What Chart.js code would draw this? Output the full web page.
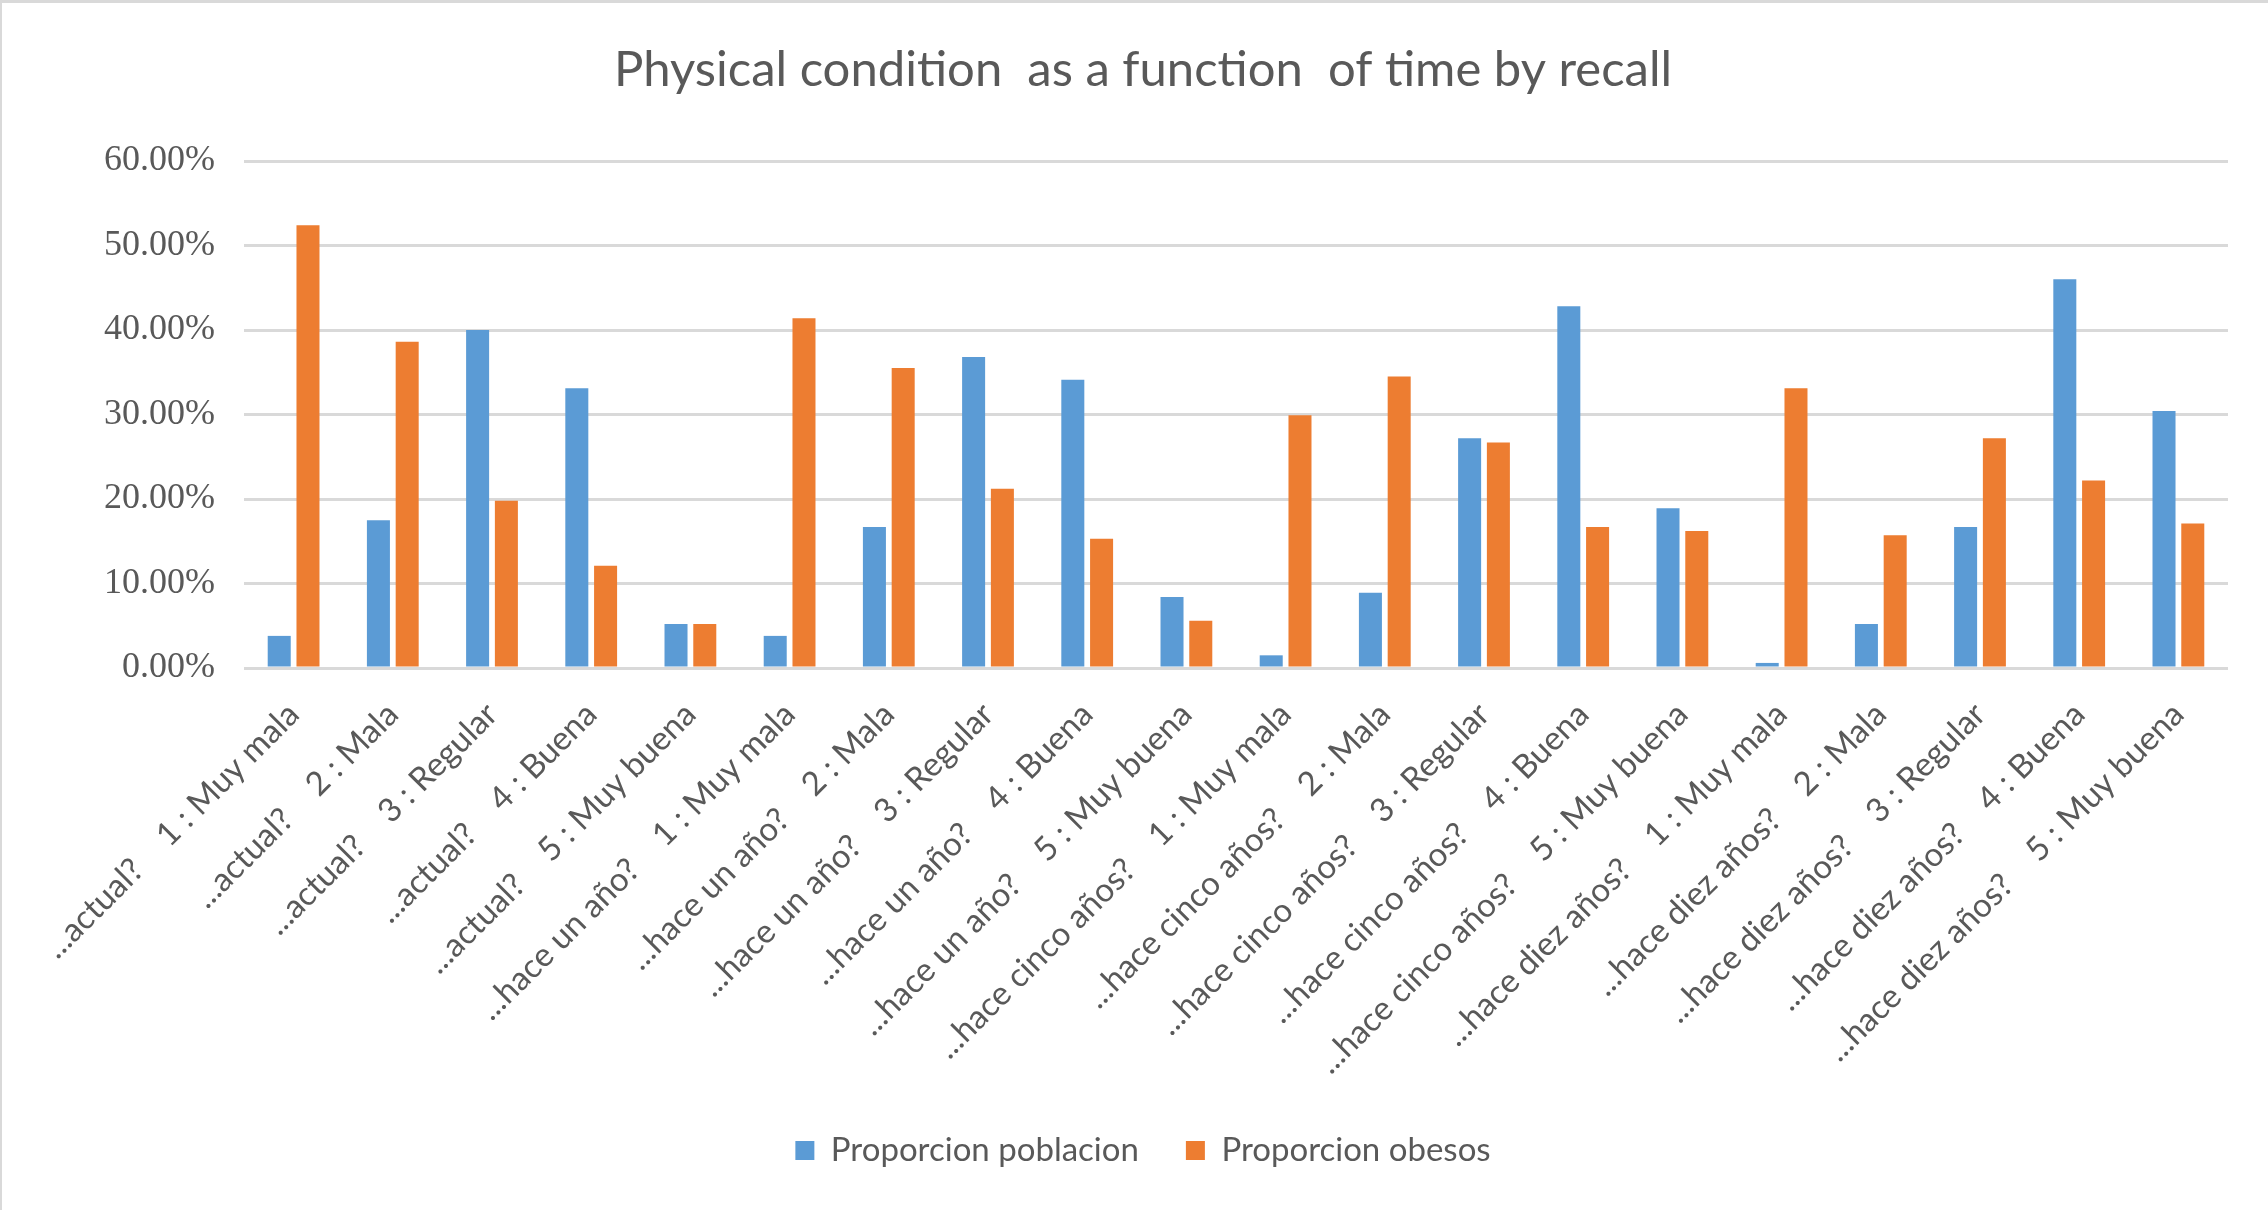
<!DOCTYPE html>
<html>
<head>
<meta charset="utf-8">
<script src="https://cdn.jsdelivr.net/npm/chart.js@4.4.1/dist/chart.umd.min.js"></script>
<style>
html,body{margin:0;padding:0;background:#fff;}
#wrap{position:relative;width:2268px;height:1210px;}
</style>
</head>
<body>
<div id="wrap"><canvas id="c" width="2268" height="1210"></canvas></div>
<script>
const periods = ["...actual?", "...hace un año?", "...hace cinco años?", "...hace diez años?"];
const ratings = ["1 : Muy mala", "2 : Mala", "3 : Regular", "4 : Buena", "5 : Muy buena"];
const poblacion = [3.8, 17.5, 40.0, 33.1, 5.2,  3.8, 16.7, 36.8, 34.1, 8.4,  1.5, 8.9, 27.2, 42.8, 18.9,  0.6, 5.2, 16.7, 46.0, 30.4];
const obesos    = [52.4, 38.6, 19.8, 12.1, 5.2,  41.4, 35.5, 21.2, 15.3, 5.6,  29.9, 34.5, 26.7, 16.7, 16.2,  33.1, 15.7, 27.2, 22.2, 17.1];
const yTicks = [0, 10, 20, 30, 40, 50, 60];
const seriesNames = ["Proporcion poblacion", "Proporcion obesos"];
const titleText = "Physical condition  as a function  of time by recall";

const labels = periods.flatMap(p => ratings.map(r => p + "    " + r));

const frame = {
  id: 'frame',
  beforeDraw(chart) {
    const ctx = chart.ctx;
    ctx.save();
    ctx.fillStyle = '#fff';
    ctx.fillRect(0, 0, chart.width, chart.height);
    ctx.fillStyle = '#D9D9D9';
    ctx.fillRect(0, 0, chart.width, 3);
    ctx.fillRect(0, 0, 2, chart.height);
    ctx.restore();
  }
};

new Chart(document.getElementById('c'), {
  type: 'bar',
  data: {
    labels: labels,
    datasets: [
      { label: seriesNames[0], data: poblacion, backgroundColor: '#5B9BD5', categoryPercentage: 0.58, barPercentage: 0.8 },
      { label: seriesNames[1], data: obesos, backgroundColor: '#ED7D31', categoryPercentage: 0.58, barPercentage: 0.8 }
    ]
  },
  options: {
    responsive: false,
    animation: false,
    devicePixelRatio: 1,
    layout: { padding: { left: 58, right: 40, top: 0, bottom: 33 } },
    plugins: {
      title: {
        display: true, text: titleText, color: '#595959',
        font: { family: 'Lato', size: 49, weight: 'normal' },
        padding: { top: 41, bottom: 61.2 }
      },
      legend: {
        position: 'bottom',
        labels: { color: '#595959', font: { family: 'Lato', size: 33 }, boxWidth: 19, boxHeight: 19, padding: 47 }
      },
      tooltip: { enabled: false }
    },
    scales: {
      x: {
        grid: { display: false },
        border: { display: false },
        ticks: { color: '#595959', font: { family: 'Lato', size: 33 }, minRotation: 45, maxRotation: 45, autoSkip: false, padding: 19 },
        afterFit(s) { s.height = 419; }
      },
      y: {
        min: yTicks[0], max: yTicks[yTicks.length - 1],
        afterBuildTicks(s) { s.ticks = yTicks.map(v => ({ value: v })); },
        ticks: { callback: v => v.toFixed(2) + '%', color: '#595959', font: { family: 'Liberation Serif', size: 36 }, padding: 29 },
        grid: { color: '#D9D9D9', lineWidth: 3, drawTicks: false },
        border: { display: false },
        afterFit(s) { s.width = 186; }
      }
    }
  },
  plugins: [frame]
});
</script>
</body>
</html>
